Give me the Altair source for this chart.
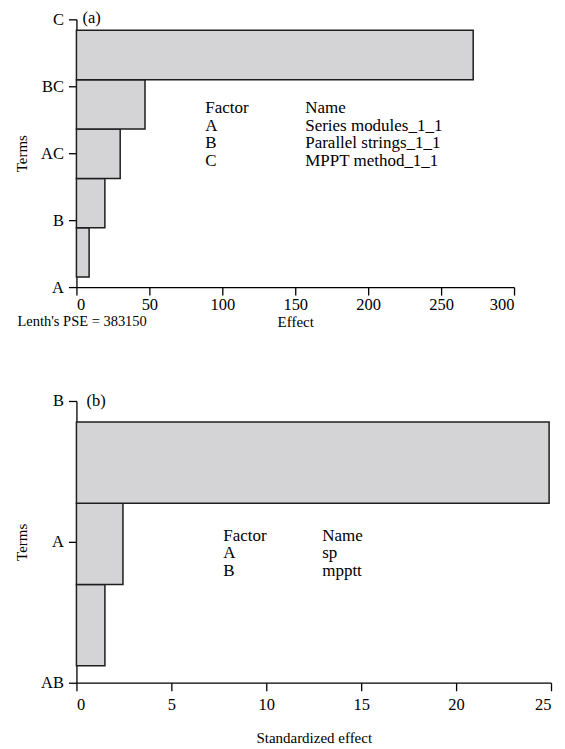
import altair as alt
import pandas as pd

# ---------------- data ----------------
# Panel (a): axis labels listed bottom -> top, bar values in the same order
terms_a = ["A", "B", "AC", "BC", "C"]
effects_a = [8.7, 19.5, 30.0, 47.0, 272.0]
x_ticks_a = [0, 50, 100, 150, 200, 250, 300]
factors_a = ["A", "B", "C"]
names_a = ["Series modules_1_1", "Parallel strings_1_1", "MPPT method_1_1"]
lenth_text = "Lenth's PSE = 383150"

# Panel (b)
terms_b = ["AB", "A", "B"]
effects_b = [1.5, 2.45, 24.9]
x_ticks_b = [0, 5, 10, 15, 20, 25]
factors_b = ["A", "B"]
names_b = ["sp", "mpptt"]

FONT = "Liberation Serif"
FS_TICK = 16.5
FS_TITLE = 15
FS_TEXT = 17


def label(txt, x, y, fs=FS_TEXT):
    return alt.Chart(pd.DataFrame({"t": [txt]})).mark_text(
        align="left", baseline="middle", font=FONT, fontSize=fs, color="black"
    ).encode(text="t:N", x=alt.value(x), y=alt.value(y))


def panel(terms, effects, xticks, xtitle, W, H, pad_lo, pad_hi, tag, tag_dx, tag_dy,
          factors, names, fx, nx, ty0, tstep, x_lab_pad, x_title_pad, extra=None):
    n = len(terms)
    ymax = n - 1
    step = (ymax - pad_lo - pad_hi) / n
    df = pd.DataFrame({
        "term": terms,
        "effect": effects,
        "k": list(range(n)),
    })
    df["lo"] = pad_lo + df["k"] * step
    df["hi"] = df["lo"] + step
    label_expr = "[" + ",".join("'" + t + "'" for t in terms) + "][datum.value]"

    bars = alt.Chart(df).mark_bar(
        fill="#d4d4d6", stroke="#1e1e1e", strokeWidth=1.5
    ).encode(
        x=alt.X("effect:Q",
                scale=alt.Scale(domain=[0, xticks[-1]], nice=False, zero=True),
                axis=alt.Axis(values=xticks, title=xtitle, titlePadding=x_title_pad,
                              labelPadding=x_lab_pad, format="d")),
        x2=alt.datum(0),
        y=alt.Y("lo:Q",
                scale=alt.Scale(domain=[0, ymax], nice=False, zero=False),
                axis=alt.Axis(values=list(range(n)), labelExpr=label_expr,
                              title="Terms", labelPadding=5, titlePadding=11.5)),
        y2="hi:Q",
    )
    layers = [bars, label(tag, tag_dx, tag_dy, fs=FS_TICK)]
    rows = [("Factor", "Name")] + list(zip(factors, names))
    for i, (f, nm) in enumerate(rows):
        layers.append(label(f, fx, ty0 + i * tstep))
        layers.append(label(nm, nx, ty0 + i * tstep))
    if extra is not None:
        layers.append(label(extra, -59, H + 35, fs=14.5))
    return alt.layer(*layers).properties(width=W, height=H)


pa = panel(terms_a, effects_a, x_ticks_a, "Effect", 438, 268, 0.149, 0.164,
           "(a)", 6, -1, factors_a, names_a, 129, 229, 89, 17.5, 1, 2, extra=lenth_text)
pb = panel(terms_b, effects_b, x_ticks_b, "Standardized effect", 475, 282, 0.12, 0.149,
           "(b)", 10, 0, factors_b, names_b, 147, 246, 135, 17.5, 6, 17)

chart = alt.vconcat(pa, pb, spacing=63).properties(
    padding={"left": 5.5, "top": 2, "right": 5, "bottom": 5},
    background="white",
).configure_view(stroke=None).configure_axis(
    grid=False,
    domainColor="black", domainWidth=1.3,
    tickColor="black", tickWidth=1.3, tickSize=8,
    labelFont=FONT, labelFontSize=FS_TICK, labelColor="black",
    titleFont=FONT, titleFontSize=FS_TITLE, titleFontWeight="normal", titleColor="black",
)

chart.save("out.html", embed_options={"renderer": "svg", "actions": False})
